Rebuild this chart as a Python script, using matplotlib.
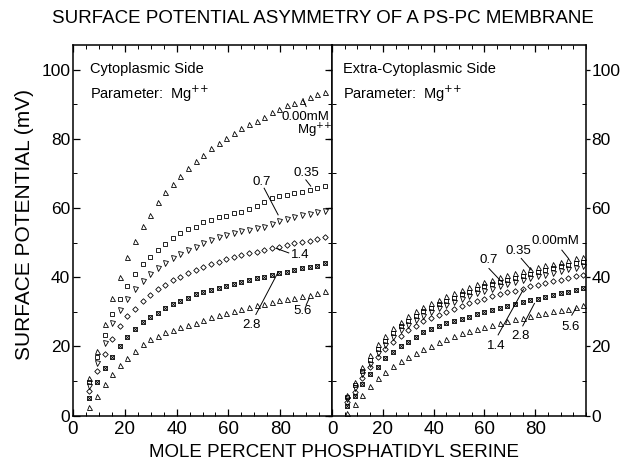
import matplotlib
matplotlib.use('Agg')
import matplotlib.pyplot as plt
from matplotlib.ticker import MultipleLocator

plt.rcParams['font.family'] = ['Liberation Sans', 'DejaVu Sans']

# mole percent PS (x positions of the points)
x_cyto = [6.3, 9.2, 12.2, 15.1, 18.0, 21.0, 23.9, 26.9, 29.8, 32.7, 35.7, 38.6, 41.5, 44.5, 47.4, 50.3,
          53.3, 56.2, 59.1, 62.1, 65.0, 67.9, 70.9, 73.8, 76.7, 79.7, 82.6, 85.5, 88.5, 91.4, 94.3, 97.3]
x_extra = [6, 9, 12, 15, 18, 21, 24, 27, 30, 33, 36, 39, 42, 45, 48, 51,
           54, 57, 60, 63, 66, 69, 72, 75, 78, 81, 84, 87, 90, 93, 96, 99]

# cytoplasmic side, surface potential (mV) per Mg++ concentration
cyto_000 = [10.7, 18.6, 26.5, 34.0, 40.1, 45.7, 50.4, 54.7, 58.1, 61.6, 64.5, 66.8, 69.3, 71.6, 73.6, 75.4,
            77.2, 78.7, 80.2, 81.6, 83.0, 84.2, 85.2, 86.4, 87.6, 88.5, 89.7, 90.2, 91.0, 92.1, 92.8, 93.6]
cyto_035 = [9.8, 16.8, 23.4, 29.2, 33.7, 37.5, 40.8, 43.7, 45.7, 47.8, 49.5, 51.3, 52.7, 53.8, 54.6, 56.0,
            56.5, 57.3, 57.8, 58.4, 58.9, 59.6, 60.5, 61.6, 62.8, 63.4, 63.8, 64.2, 64.7, 65.2, 65.8, 66.3]
cyto_07 = [8.6, 15.1, 21.1, 26.6, 30.5, 33.8, 36.5, 38.9, 40.9, 42.5, 44.0, 45.5, 46.8, 47.8, 48.8, 49.8,
           50.7, 51.5, 52.2, 52.7, 53.2, 53.6, 54.1, 54.6, 55.3, 56.2, 56.9, 57.5, 57.9, 58.3, 58.7, 59.2]
cyto_14 = [7.2, 12.8, 17.8, 22.2, 25.9, 28.8, 30.9, 33.2, 34.9, 36.7, 37.7, 39.2, 40.1, 41.1, 42.1, 43.0,
           43.7, 44.5, 45.1, 45.7, 46.3, 46.9, 47.3, 47.8, 48.3, 48.8, 49.3, 49.8, 50.2, 50.5, 50.9, 51.5]
cyto_28 = [5.1, 9.6, 13.7, 17.0, 20.2, 22.8, 24.9, 26.9, 28.4, 29.7, 31.0, 32.2, 33.1, 34.0, 35.0, 35.8,
           36.3, 36.8, 37.3, 37.9, 38.6, 39.2, 39.7, 40.1, 40.6, 41.1, 41.6, 42.0, 42.5, 42.9, 43.3, 44.0]
cyto_56 = [2.5, 5.6, 9.1, 12.0, 14.6, 16.7, 18.7, 20.6, 22.0, 23.0, 24.0, 24.8, 25.5, 26.2, 26.8, 27.6,
           28.4, 29.0, 29.6, 30.1, 30.7, 31.3, 31.8, 32.3, 32.8, 33.3, 33.7, 34.1, 34.5, 34.9, 35.3, 36.0]

# extra-cytoplasmic side
extra_000 = [5.9, 9.8, 14.1, 17.5, 20.6, 23.0, 25.2, 27.1, 28.7, 30.1, 31.4, 32.5, 33.5, 34.5, 35.4, 36.3,
             37.1, 37.9, 38.6, 39.3, 40.0, 40.6, 41.2, 41.8, 42.4, 42.9, 43.4, 43.9, 44.5, 45.0, 45.4, 45.9]
extra_035 = [5.3, 8.8, 12.9, 16.0, 19.2, 21.6, 23.9, 25.8, 27.4, 28.8, 30.1, 31.2, 32.2, 33.2, 34.1, 35.0,
             35.8, 36.6, 37.3, 38.0, 38.6, 39.2, 39.8, 40.4, 41.0, 41.5, 42.0, 42.6, 43.1, 43.6, 44.0, 44.5]
extra_07 = [4.8, 7.9, 12.0, 14.9, 18.0, 20.4, 22.8, 24.6, 26.2, 27.6, 28.9, 30.0, 31.0, 32.0, 32.8, 33.7,
            34.5, 35.3, 36.0, 36.7, 37.3, 37.9, 38.5, 39.1, 39.7, 40.2, 40.7, 41.3, 41.8, 42.3, 42.7, 43.2]
extra_14 = [3.8, 6.9, 10.9, 13.9, 16.8, 19.1, 21.2, 23.0, 24.6, 26.0, 27.2, 28.2, 29.1, 30.0, 30.8, 31.6,
            32.4, 33.1, 33.8, 34.4, 35.0, 35.6, 36.1, 36.7, 37.3, 37.8, 38.3, 38.8, 39.3, 39.8, 40.2, 40.6]
extra_28 = [2.7, 5.7, 9.0, 12.0, 14.1, 16.5, 18.4, 20.0, 21.3, 22.8, 24.0, 24.9, 26.0, 26.8, 27.4, 28.0,
            28.6, 29.2, 29.8, 30.4, 31.0, 31.6, 32.2, 32.8, 33.3, 33.8, 34.3, 34.8, 35.3, 35.8, 36.3, 36.8]
extra_56 = [0.8, 3.3, 5.9, 8.6, 10.8, 12.6, 14.4, 15.8, 17.0, 18.1, 19.1, 20.2, 21.2, 22.2, 23.1, 23.8,
            24.5, 25.1, 25.6, 26.1, 26.7, 27.3, 27.8, 28.2, 28.7, 29.2, 29.6, 30.1, 30.5, 30.9, 31.3, 31.9]

fig = plt.figure(figsize=(6.21, 4.67), dpi=100)
ax_c = fig.add_axes([73 / 621, 51.5 / 467, 259 / 621, 370.5 / 467])
ax_e = fig.add_axes([332 / 621, 51.5 / 467, 254 / 621, 370.5 / 467])

ms = 3.6
mew = 0.6


def draw_series(ax, x, series):
    s000, s035, s07, s14, s28, s56 = series
    kw = dict(linestyle='none', color='black', mfc='none', mew=mew)
    ax.plot(x, s000, marker='^', ms=ms, **kw)
    ax.plot(x, s035, marker='s', ms=ms - 0.6, **kw)
    ax.plot(x, s07, marker='v', ms=ms, **kw)
    ax.plot(x, s14, marker='D', ms=ms - 0.8, **kw)
    ax.plot(x, s28, marker='s', ms=ms - 0.4, **kw)
    ax.plot(x, s28, marker='x', ms=ms - 1.2, **kw)
    ax.plot(x, s56, marker='^', ms=ms, **kw)


draw_series(ax_c, x_cyto, [cyto_000, cyto_035, cyto_07, cyto_14, cyto_28, cyto_56])
draw_series(ax_e, x_extra, [extra_000, extra_035, extra_07, extra_14, extra_28, extra_56])

for ax in (ax_c, ax_e):
    ax.set_xlim(0, 100)
    ax.set_ylim(0, 107.1)
    ax.set_xticks([0, 20, 40, 60, 80])
    ax.xaxis.set_minor_locator(MultipleLocator(5))
    ax.yaxis.set_major_locator(MultipleLocator(20))
    ax.yaxis.set_minor_locator(MultipleLocator(10))
    for sp in ax.spines.values():
        sp.set_linewidth(1.1)
    ax.tick_params(axis='x', which='both', direction='in', top=True, bottom=True,
                   labelsize=13.5, pad=4)
    ax.tick_params(axis='x', which='major', length=5, width=0.9)
    ax.tick_params(axis='x', which='minor', length=3, width=0.7)
    ax.tick_params(axis='y', which='major', length=5, width=0.9, labelsize=12.5, pad=2)
    ax.tick_params(axis='y', which='minor', length=3, width=0.7)

ax_c.tick_params(axis='y', which='both', direction='in', left=True, right=True)
ax_e.tick_params(axis='y', which='both', left=True, right=True, labelleft=False,
                 labelright=True)
ax_e.tick_params(axis='y', which='major', direction='out', length=3, pad=1)
ax_e.tick_params(axis='y', which='minor', direction='in')

sup = r'Mg$^{+\!+}$'
ax_c.text(0.065, 0.955, 'Cytoplasmic Side', transform=ax_c.transAxes, fontsize=10.5, va='top')
ax_c.text(0.065, 0.895, 'Parameter:  ' + sup, transform=ax_c.transAxes, fontsize=10.5, va='top')
ax_e.text(0.045, 0.955, 'Extra-Cytoplasmic Side', transform=ax_e.transAxes, fontsize=10.5, va='top')
ax_e.text(0.045, 0.895, 'Parameter:  ' + sup, transform=ax_e.transAxes, fontsize=10.5, va='top')

fs_lab = 9.5
ax_c.text(80.5, 86.3, '0.00mM', fontsize=fs_lab, va='center')
ax_c.text(86.5, 82.3, sup, fontsize=fs_lab, va='center')
ax_c.plot([88.8, 90.0], [91.6, 89.3], color='black', lw=0.7)
ax_c.text(90, 70.2, '0.35', fontsize=fs_lab, ha='center', va='center')
ax_c.plot([89.9, 91.8], [68.1, 66.3], color='black', lw=0.7)
ax_c.text(72.7, 67.5, '0.7', fontsize=fs_lab, ha='center', va='center')
ax_c.plot([73.8, 79.2], [65.7, 58.0], color='black', lw=0.7)
ax_c.text(87.8, 46.5, '1.4', fontsize=fs_lab, ha='center', va='center')
ax_c.plot([78.5, 83.3], [48.3, 47.0], color='black', lw=0.7)
ax_c.text(68.8, 26.2, '2.8', fontsize=fs_lab, ha='center', va='center')
ax_c.plot([70.6, 79.3], [29.2, 41.6], color='black', lw=0.7)
ax_c.text(88.8, 30.2, '5.6', fontsize=fs_lab, ha='center', va='center')
ax_c.plot([90.0, 91.2], [31.9, 33.9], color='black', lw=0.7)

ax_e.text(88.0, 50.4, '0.00mM', fontsize=fs_lab, ha='center', va='center')
ax_e.plot([90.5, 93.1], [47.8, 45.4], color='black', lw=0.7)
ax_e.text(73.4, 47.6, '0.35', fontsize=fs_lab, ha='center', va='center')
ax_e.plot([74.5, 78.4], [45.4, 42.1], color='black', lw=0.7)
ax_e.text(61.7, 44.9, '0.7', fontsize=fs_lab, ha='center', va='center')
ax_e.plot([61.8, 66.7], [42.5, 38.7], color='black', lw=0.7)
ax_e.text(64.5, 20.1, '1.4', fontsize=fs_lab, ha='center', va='center')
ax_e.plot([65.4, 75.4], [23.3, 36.5], color='black', lw=0.7)
ax_e.text(74.2, 23.0, '2.8', fontsize=fs_lab, ha='center', va='center')
ax_e.plot([75.1, 79.7], [25.9, 32.4], color='black', lw=0.7)
ax_e.text(93.8, 25.6, '5.6', fontsize=fs_lab, ha='center', va='center')
ax_e.plot([94.4, 96.0], [29.0, 31.0], color='black', lw=0.7)

fig.text(0.52, 0.961, 'SURFACE POTENTIAL ASYMMETRY OF A PS-PC MEMBRANE', fontsize=13.5,
         ha='center', va='center')
fig.text(0.538, 0.013, 'MOLE PERCENT PHOSPHATIDYL SERINE', fontsize=13.5, ha='center', va='bottom')
fig.text(0.04, 0.52, 'SURFACE POTENTIAL (mV)', fontsize=15, rotation=90, ha='center', va='center')

fig.savefig('out.png', dpi=100)
